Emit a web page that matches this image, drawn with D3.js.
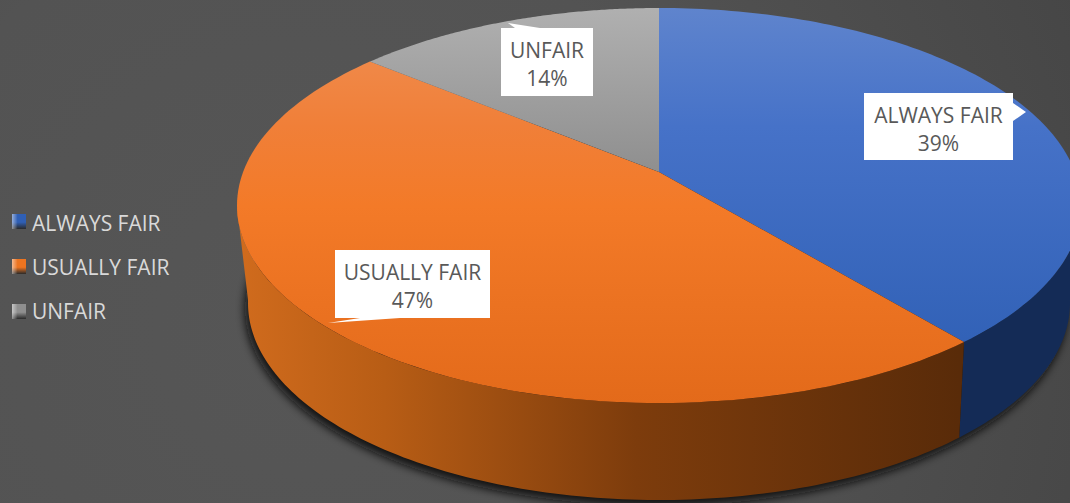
<!DOCTYPE html>
<html>
<head>
<meta charset="utf-8">
<script src="https://cdn.jsdelivr.net/npm/d3@7"></script>
<style>
    html, body { margin: 0; padding: 0; background: #525252; overflow: hidden; }
    svg { display: block; }
    text { font-family: 'Open Sans', 'Noto Sans', sans-serif; }
</style>
</head>
<body>
<div id="chart"></div>
<script>
const categories = ['ALWAYS FAIR', 'USUALLY FAIR', 'UNFAIR'];
const shares = [39, 47, 14];
const topColors = [
    [[0, '#5f84cd'], [0.3, '#4672c8'], [1, '#2c5db2']],
    [[0, '#f09055'], [0.3, '#f07f38'], [0.5, '#f37a28'], [1, '#e36a1a']],
    [[0, '#b0b0b0'], [0.45, '#8c8c8c']]
];
const wallColors = [
    [[0, '#13294f'], [1, '#142b56']],
    [[0, '#d06b1d'], [0.2, '#b85d15'], [0.55, '#7d3c0c'], [1, '#592b09']],
    [[0, '#555555'], [1, '#555555']]
];
const swatchColors = ['#2f5fb5', '#ed7420', '#8f8f8f'];

const WIDTH = 1070;
const HEIGHT = 503;
// the two rims of the disc, with the perspective shift of the centre (a)
const TOP_RIM = { cx: 659, cy: 205.5, rx: 422, ry: 197.5, a: -0.17 };
const BOTTOM_RIM = { cx: 659, cy: 303, rx: 411, ry: 197, a: -0.185 };
// label box, with the tip of its pointer and the base of the pointer
const LABEL_BOXES = [
    { x: 864, y: 93, w: 149, h: 67, pointer: [[1013, 103], [1026, 112], [1013, 121]] },
    { x: 335, y: 250, w: 155, h: 68, pointer: [[360, 318], [328, 323], [400, 318]] },
    { x: 501, y: 28, w: 92, h: 68, pointer: [[515, 28], [508, 23], [540, 28]] }
];
const LEGEND_Y = [214, 259, 304];
const LEGEND_TEXT_Y = [231, 274.5, 319];

// angle is clockwise from 12 o'clock, as d3.pie gives it
const project = (angle, rim) => {
    const u = Math.sin(angle);
    const v = -Math.cos(angle);
    const d = 1 + rim.a * v;
    return [
        rim.cx + (rim.rx * u * Math.sqrt(1 - rim.a * rim.a)) / d,
        rim.cy + (rim.ry * (v + rim.a)) / d
    ];
};

const anglesBetween = (a0, a1) =>
    d3.range(0, 121).map((i) => a0 + ((a1 - a0) * i) / 120);

const line = d3.line();

const svg = d3
    .select('#chart')
    .append('svg')
    .attr('width', WIDTH)
    .attr('height', HEIGHT);
const defs = svg.append('defs');

const addGradient = (id, stops, coords) => {
    const g = defs
        .append('linearGradient')
        .attr('id', id)
        .attr('gradientUnits', 'userSpaceOnUse')
        .attr('x1', coords[0])
        .attr('y1', coords[1])
        .attr('x2', coords[2])
        .attr('y2', coords[3]);
    stops.forEach(([offset, color]) => {
        g.append('stop').attr('offset', offset).attr('stop-color', color);
    });
};

// Background
const bg = defs
    .append('radialGradient')
    .attr('id', 'bg')
    .attr('gradientUnits', 'userSpaceOnUse')
    .attr('cx', 300)
    .attr('cy', 330)
    .attr('r', 850);
bg.append('stop').attr('offset', 0).attr('stop-color', '#565656');
bg.append('stop').attr('offset', 0.5).attr('stop-color', '#535353');
bg.append('stop').attr('offset', 1).attr('stop-color', '#464646');
svg.append('rect')
    .attr('width', WIDTH)
    .attr('height', HEIGHT)
    .attr('fill', 'url(#bg)');

const blur = defs
    .append('filter')
    .attr('id', 'blur')
    .attr('x', '-10%')
    .attr('y', '-10%')
    .attr('width', '120%')
    .attr('height', '120%');
blur.append('feGaussianBlur').attr('stdDeviation', 5);

const pieData = d3
    .pie()
    .sort(null)
    .startAngle(0)
    .endAngle(2 * Math.PI)(shares);

const bounds = svg.append('g');

// Shadow under the disc
bounds
    .append('path')
    .attr(
        'd',
        line(
            anglesBetween(0, 2 * Math.PI).map((a) => {
                const p = project(a, BOTTOM_RIM);
                return [p[0] - 3, p[1] + 6];
            })
        ) + 'Z'
    )
    .attr('fill', '#0c0c0c')
    .attr('fill-opacity', 0.95)
    .attr('filter', 'url(#blur)');

// Side wall, from the right end of the rim round the front to its left end
pieData.forEach((d, i) => {
    addGradient(`wall${i}`, wallColors[i], [240, 0, 960, 0]);
    const a0 = Math.max(d.startAngle, 0.555 * Math.PI);
    const a1 = Math.min(d.endAngle, 1.445 * Math.PI);
    if (a0 >= a1) {
        return;
    }
    const upper = anglesBetween(a0, a1).map((a) => project(a, TOP_RIM));
    const lower = anglesBetween(a1, a0).map((a) => project(a, BOTTOM_RIM));
    bounds
        .append('path')
        .attr('d', line(upper.concat(lower)) + 'Z')
        .attr('fill', `url(#wall${i})`);
});

// Top faces
pieData.forEach((d, i) => {
    addGradient(`top${i}`, topColors[i], [0, 8, 0, 404]);
    const rim = anglesBetween(d.startAngle, d.endAngle).map((a) =>
        project(a, TOP_RIM)
    );
    const apex = [
        TOP_RIM.cx,
        TOP_RIM.cy + TOP_RIM.ry * TOP_RIM.a
    ];
    bounds
        .append('path')
        .attr('d', line([apex].concat(rim)) + 'Z')
        .attr('fill', `url(#top${i})`);
});

// Data labels
const labels = bounds
    .selectAll('.label')
    .data(categories)
    .join('g')
    .attr('class', 'label');
labels
    .append('rect')
    .attr('x', (d, i) => LABEL_BOXES[i].x)
    .attr('y', (d, i) => LABEL_BOXES[i].y)
    .attr('width', (d, i) => LABEL_BOXES[i].w)
    .attr('height', (d, i) => LABEL_BOXES[i].h)
    .attr('fill', '#fff');
labels
    .append('path')
    .attr('d', (d, i) => line(LABEL_BOXES[i].pointer) + 'Z')
    .attr('fill', '#fff');
labels
    .append('text')
    .attr('x', (d, i) => LABEL_BOXES[i].x + LABEL_BOXES[i].w / 2)
    .attr('y', (d, i) => LABEL_BOXES[i].y + 29.5)
    .attr('text-anchor', 'middle')
    .attr('font-size', 21)
    .attr('fill', '#595959')
    .text((d) => d);
labels
    .append('text')
    .attr('x', (d, i) => LABEL_BOXES[i].x + LABEL_BOXES[i].w / 2)
    .attr('y', (d, i) => LABEL_BOXES[i].y + 57.5)
    .attr('text-anchor', 'middle')
    .attr('font-size', 21)
    .attr('fill', '#595959')
    .text((d, i) => `${shares[i]}%`);

// Legend
const legend = svg
    .selectAll('.legend')
    .data(categories)
    .join('g')
    .attr('class', 'legend');
categories.forEach((c, i) => {
    const g = defs
        .append('linearGradient')
        .attr('id', `swatch${i}`)
        .attr('x1', 0)
        .attr('y1', 0)
        .attr('x2', 0)
        .attr('y2', 1);
    g.append('stop').attr('offset', 0).attr('stop-color', swatchColors[i]);
    g.append('stop').attr('offset', 0.55).attr('stop-color', swatchColors[i]);
    g.append('stop').attr('offset', 1).attr('stop-color', '#2a2a2a');
});
const swatchLight = defs
    .append('linearGradient')
    .attr('id', 'swatchLight');
swatchLight
    .append('stop')
    .attr('offset', 0)
    .attr('stop-color', '#fff')
    .attr('stop-opacity', 0.5);
swatchLight
    .append('stop')
    .attr('offset', 0.4)
    .attr('stop-color', '#fff')
    .attr('stop-opacity', 0);
legend
    .append('rect')
    .attr('x', 12)
    .attr('y', (d, i) => LEGEND_Y[i])
    .attr('width', 14)
    .attr('height', 15)
    .attr('fill', (d, i) => `url(#swatch${i})`);
legend
    .append('rect')
    .attr('x', 12)
    .attr('y', (d, i) => LEGEND_Y[i])
    .attr('width', 14)
    .attr('height', 15)
    .attr('fill', 'url(#swatchLight)');
legend
    .append('text')
    .attr('x', 32)
    .attr('y', (d, i) => LEGEND_TEXT_Y[i])
    .attr('font-size', 21)
    .attr('fill', '#d9d9d9')
    .text((d) => d);
</script>
</body>
</html>
